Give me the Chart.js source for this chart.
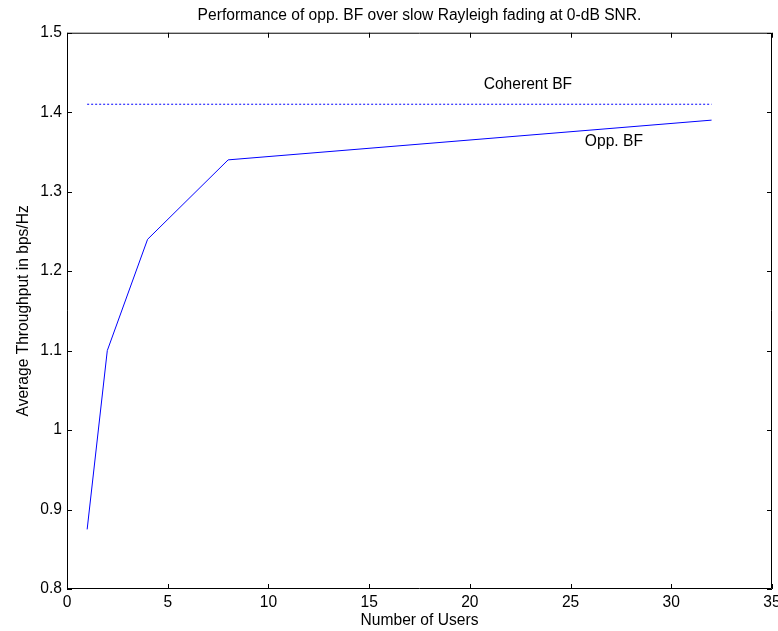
<!DOCTYPE html>
<html>
<head>
<meta charset="utf-8">
<script src="https://cdn.jsdelivr.net/npm/chart.js@4.4.0/dist/chart.umd.min.js"></script>
<style>
  html, body { margin: 0; padding: 0; background: #fff; }
  #wrap { width: 778px; height: 631px; }
</style>
</head>
<body>
<div id="wrap"><canvas id="chart" width="778" height="631"></canvas></div>
<script>
// data
const users = [1, 2, 4, 8, 32];
const oppBF = [0.875, 1.1, 1.24, 1.34, 1.39];
const coherentX = [1, 32];
const coherentBF = [1.41, 1.41];
const xTicks = [0, 5, 10, 15, 20, 25, 30, 35];
const yTicks = [0.8, 0.9, 1.0, 1.1, 1.2, 1.3, 1.4, 1.5];
const labelTexts = ['Coherent BF', 'Opp. BF'];
const labelX = [22.88, 27.15];
const labelY = [1.435, 1.363];

const FONT = 'Liberation Sans, Arial, sans-serif';
const FSIZE = 15.6;

// MATLAB-style box with inward ticks on all sides, plus text labels
const boxPlugin = {
    id: 'box',
    afterDraw: function (chart) {
        const ctx = chart.ctx;
        const a = chart.chartArea;
        const xs = chart.scales.x;
        const ys = chart.scales.y;
        const len = 5;
        ctx.save();
        ctx.strokeStyle = '#000';
        ctx.lineWidth = 1;
        ctx.beginPath();
        ctx.rect(a.left + 0.5, a.top + 0.5, a.right - a.left - 1, a.bottom - a.top - 1);
        xTicks.forEach(v => {
            const x = Math.round(xs.getPixelForValue(v)) + 0.5;
            ctx.moveTo(x, a.bottom); ctx.lineTo(x, a.bottom - len);
            ctx.moveTo(x, a.top); ctx.lineTo(x, a.top + len);
        });
        yTicks.forEach(v => {
            const y = Math.round(ys.getPixelForValue(v)) + 0.5;
            ctx.moveTo(a.left, y); ctx.lineTo(a.left + len, y);
            ctx.moveTo(a.right, y); ctx.lineTo(a.right - len, y);
        });
        ctx.stroke();

        ctx.fillStyle = '#000';
        ctx.font = FSIZE + 'px ' + FONT;
        ctx.textAlign = 'center';
        ctx.textBaseline = 'middle';
        labelTexts.forEach((t, i) => {
            ctx.fillText(t, xs.getPixelForValue(labelX[i]), ys.getPixelForValue(labelY[i]));
        });
        ctx.restore();
    }
};

new Chart(document.getElementById('chart').getContext('2d'), {
    type: 'line',
    data: {
        datasets: [{
            label: 'Opp. BF',
            data: users.map((u, i) => ({ x: u, y: oppBF[i] })),
            borderColor: '#0000ff',
            borderWidth: 1,
            pointRadius: 0,
            fill: false,
            tension: 0
        }, {
            label: 'Coherent BF',
            data: coherentX.map((u, i) => ({ x: u, y: coherentBF[i] })),
            borderColor: '#0000ff',
            borderWidth: 1,
            borderDash: [2, 2],
            pointRadius: 0,
            fill: false
        }]
    },
    options: {
        responsive: false,
        animation: false,
        layout: { padding: { left: 0, right: 6, top: 0, bottom: 0 } },
        plugins: {
            legend: { display: false },
            tooltip: { enabled: false },
            title: {
                display: true,
                fullSize: false,
                text: 'Performance of opp. BF over slow Rayleigh fading at 0-dB SNR.',
                color: '#000',
                font: { family: FONT, size: FSIZE, weight: 'normal' },
                padding: { top: 6, bottom: 8 }
            }
        },
        scales: {
            x: {
                type: 'linear',
                min: 0,
                max: 35,
                grid: { display: false, drawTicks: false },
                border: { display: false },
                afterBuildTicks: s => { s.ticks = xTicks.map(v => ({ value: v })); },
                afterFit: s => { s.height = 42; s.paddingLeft = 0; s.paddingRight = 6; },
                ticks: {
                    color: '#000',
                    padding: 4,
                    maxRotation: 0,
                    font: { family: FONT, size: FSIZE }
                },
                title: {
                    display: true,
                    text: 'Number of Users',
                    color: '#000',
                    padding: { top: 0, bottom: 1 },
                    font: { family: FONT, size: FSIZE }
                }
            },
            y: {
                type: 'linear',
                min: 0.8,
                max: 1.5,
                grid: { display: false, drawTicks: false },
                border: { display: false },
                afterBuildTicks: s => { s.ticks = yTicks.map(v => ({ value: v })); },
                afterFit: s => { s.width = 67; s.paddingTop = 0; s.paddingBottom = 0; },
                ticks: {
                    color: '#000',
                    padding: 5,
                    font: { family: FONT, size: FSIZE },
                    callback: v => String(+(+v).toFixed(1))
                },
                title: {
                    display: true,
                    text: 'Average Throughput in bps/Hz',
                    color: '#000',
                    padding: { top: 14, bottom: 0 },
                    font: { family: FONT, size: FSIZE }
                }
            }
        }
    },
    plugins: [boxPlugin]
});
</script>
</body>
</html>
